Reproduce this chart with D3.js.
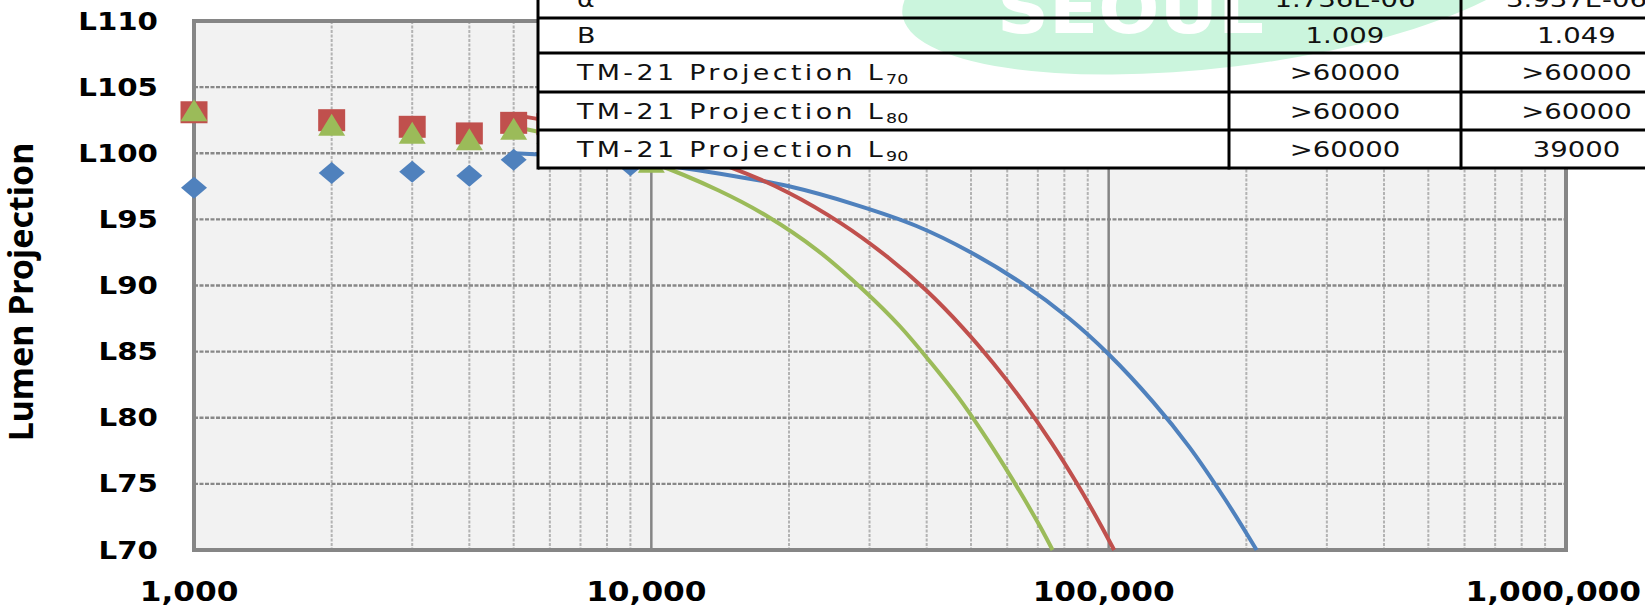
<!DOCTYPE html>
<html>
<head>
<meta charset="utf-8">
<script src="https://cdn.jsdelivr.net/npm/d3@7/dist/d3.min.js"></script>
<style>
  html, body { margin: 0; padding: 0; background: #fff; }
  svg { display: block; }
</style>
</head>
<body>
<svg id="chart"></svg>
<script>
const W = 1645, H = 608;

// LM-80 measured points (hours, lumen %)
const hours = [1000, 2000, 3000, 4000, 5000, 6000, 7000, 8000, 9000, 10000];
const blueMeasured = [97.4, 98.5, 98.6, 98.3, 99.5, 99.7, 99.6, 99.6, 99.1, 99.6];
const redMeasured = [103.1, 102.5, 102.0, 101.5, 102.3, 102.2, 102.0, 101.8, 101.5, 101.3];
const greenMeasured = [103.1, 102.0, 101.4, 100.9, 101.7, 101.4, 101.0, 100.5, 100.1, 99.2];

// TM-21 projection curves
const blueFitHours = [5000, 7000, 10000, 15000, 20000, 28000, 38000, 50000, 65000, 82000, 100000, 125000, 150000, 180000, 210600];
const blueFit = [100.0, 99.7, 99.2, 98.3, 97.5, 96.1, 94.5, 92.5, 90.1, 87.5, 84.8, 81.2, 77.8, 73.8, 70.0];
const redFitHours = [5000, 7000, 10000, 15000, 20000, 26000, 33000, 40000, 48000, 56000, 65000, 75000, 85000, 95000, 102800];
const redFit = [102.9, 102.0, 100.9, 98.9, 97.0, 94.7, 92.1, 89.6, 86.8, 84.1, 81.2, 78.1, 75.1, 72.2, 70.0];
const greenFitHours = [5000, 7000, 10000, 14000, 18000, 23000, 29000, 35000, 41000, 47000, 53000, 59000, 65000, 71000, 75400];
const greenFit = [102.0, 100.9, 99.3, 97.2, 95.2, 92.7, 89.7, 86.9, 84.1, 81.5, 78.9, 76.4, 74.0, 71.7, 70.0];

const yTicks = [70, 75, 80, 85, 90, 95, 100, 105, 110];
const yTickLabels = ["L70", "L75", "L80", "L85", "L90", "L95", "L100", "L105", "L110"];
const xTicks = [1000, 10000, 100000, 1000000];
const xTickLabels = ["1,000", "10,000", "100,000", "1,000,000"];

// table
const rowLabels = ["α", "B", "TM-21 Projection L", "TM-21 Projection L", "TM-21 Projection L"];
const rowSubs = ["", "", "70", "80", "90"];
const col2Values = ["1.736E-06", "1.009", ">60000", ">60000", ">60000"];
const col3Values = ["3.937E-06", "1.049", ">60000", ">60000", "39000"];

const colors = { blue: "#4f81bd", red: "#c0504d", green: "#9bbb59" };

const svg = d3.select("#chart").attr("width", W).attr("height", H);

const plot = { left: 194, right: 1566, top: 21, bottom: 550 };
const x = d3.scaleLog().domain([1000, 1000000]).range([plot.left, plot.right]);
const y = d3.scaleLinear().domain([70, 110]).range([plot.bottom, plot.top]);

// stretched text helper (the source picture is widened horizontally)
function sText(g, px, py, str, o) {
  return g.append("text")
    .attr("transform", `translate(${px},${py}) scale(${o.sx || 1},1)` + (o.rot ? ` rotate(${o.rot})` : ""))
    .attr("text-anchor", o.anchor || "start")
    .attr("font-family", o.family || "DejaVu Sans")
    .attr("font-weight", o.weight || "normal")
    .attr("font-size", o.size)
    .attr("letter-spacing", o.ls || 0)
    .attr("fill", o.fill || "#000")
    .text(str);
}

// plot background
svg.append("rect")
  .attr("x", plot.left).attr("y", plot.top)
  .attr("width", plot.right - plot.left).attr("height", plot.bottom - plot.top)
  .attr("fill", "#f2f2f2");

// vertical minor grid
const minor = [];
[1000, 10000, 100000].forEach(d => { for (let k = 2; k <= 9; k++) minor.push(d * k); });
svg.append("g").selectAll("line").data(minor).join("line")
  .attr("x1", d => x(d)).attr("x2", d => x(d))
  .attr("y1", plot.top).attr("y2", plot.bottom)
  .attr("stroke", "#b3b3b3").attr("stroke-width", 2).attr("stroke-dasharray", "3 1.5");

// horizontal grid
svg.append("g").selectAll("line").data(yTicks.slice(1, -1)).join("line")
  .attr("x1", plot.left).attr("x2", plot.right)
  .attr("y1", d => y(d)).attr("y2", d => y(d))
  .attr("stroke", "#888").attr("stroke-width", 2.4).attr("stroke-dasharray", "4 1.5");

// vertical major grid
svg.append("g").selectAll("line").data(xTicks.slice(1, -1)).join("line")
  .attr("x1", d => x(d)).attr("x2", d => x(d))
  .attr("y1", plot.top).attr("y2", plot.bottom)
  .attr("stroke", "#858585").attr("stroke-width", 2.5);

// plot border
svg.append("rect")
  .attr("x", plot.left).attr("y", plot.top)
  .attr("width", plot.right - plot.left).attr("height", plot.bottom - plot.top)
  .attr("fill", "none").attr("stroke", "#868686").attr("stroke-width", 4);

// projection curves
const line = d3.line().x(d => x(d[0])).y(d => y(d[1])).curve(d3.curveCatmullRom.alpha(0.5));
[[blueFitHours, blueFit, colors.blue], [redFitHours, redFit, colors.red], [greenFitHours, greenFit, colors.green]]
  .forEach(([hs, vs, c]) => {
    svg.append("path")
      .datum(d3.zip(hs, vs))
      .attr("d", line)
      .attr("fill", "none").attr("stroke", c).attr("stroke-width", 4);
  });

// markers
const diamond = "M0,-11L13,0L0,11L-13,0Z";
const square = "M-13.5,-11H13.5V11H-13.5Z";
const triangle = "M0,-13L13.5,9L-13.5,9Z";
function markers(vals, shape, c) {
  svg.append("g").selectAll("path").data(d3.zip(hours, vals)).join("path")
    .attr("d", shape)
    .attr("transform", d => `translate(${x(d[0])},${y(d[1])})`)
    .attr("fill", c);
}
markers(blueMeasured, diamond, colors.blue);
markers(redMeasured, square, colors.red);
markers(greenMeasured, triangle, colors.green);

// y tick labels
const yl = svg.append("g");
yTicks.forEach((v, i) => {
  sText(yl, 158, y(v) + 8.5, yTickLabels[i], { size: 24, weight: "bold", anchor: "end", sx: 1.22 });
});

// x tick labels (last one kept inside the frame)
const xl = svg.append("g");
xTicks.forEach((v, i) => {
  const sx = 1.2;
  const t = sText(xl, x(v) - 5, 601, xTickLabels[i], { size: 26, weight: "bold", anchor: "middle", sx });
  const half = t.node().getComputedTextLength() * sx / 2;
  const cx = Math.min(x(v) - 5, W - 4 - half);
  t.attr("transform", `translate(${cx},601) scale(${sx},1)`);
});

// y axis title
sText(svg, 33, 292, "Lumen Projection", { size: 34, family: "Noto Sans", weight: "bold", anchor: "middle", sx: 1.0, rot: -90 });

// table
const rowLines = [-20, 18, 53, 92, 130, 168];
const colLines = [538, 1229, 1461, 1700];
const tbl = svg.append("g");
tbl.append("rect")
  .attr("x", colLines[0]).attr("y", rowLines[0])
  .attr("width", W - colLines[0] + 10).attr("height", rowLines[5] - rowLines[0])
  .attr("fill", "#fff");

// watermark logo behind the grid lines of the table
const wm = tbl.append("g");
wm.append("ellipse")
  .attr("cx", 1225).attr("cy", -25).attr("rx", 325).attr("ry", 92)
  .attr("transform", "rotate(-7,1225,-25)")
  .attr("fill", "#cbf5dd");
wm.append("text")
  .attr("x", 997).attr("y", 33)
  .attr("textLength", 267).attr("lengthAdjust", "spacingAndGlyphs")
  .attr("font-family", "DejaVu Sans").attr("font-weight", "bold").attr("font-size", 70)
  .attr("fill", "#fff").text("SEOUL");

tbl.selectAll("line.h").data(rowLines.slice(1)).join("line")
  .attr("x1", colLines[0]).attr("x2", W + 5)
  .attr("y1", d => d).attr("y2", d => d)
  .attr("stroke", "#000").attr("stroke-width", 3);
tbl.selectAll("line.v").data(colLines.slice(0, 3)).join("line")
  .attr("x1", d => d).attr("x2", d => d)
  .attr("y1", rowLines[0]).attr("y2", rowLines[5] + 1.5)
  .attr("stroke", "#000").attr("stroke-width", 3);

const tt = tbl.append("g");
rowLabels.forEach((lab, i) => {
  const cy = (rowLines[i] + rowLines[i + 1]) / 2 + 7.5;
  const t = sText(tt, 577, cy, lab, { size: 21.5, anchor: "start", sx: 1.25, ls: 2.7, fill: "#111" });
  if (rowSubs[i]) {
    t.append("tspan").attr("dy", 4).attr("font-size", 14).attr("letter-spacing", 0).text(rowSubs[i]);
  }
  sText(tt, (colLines[1] + colLines[2]) / 2, cy, col2Values[i], { size: 21.5, anchor: "middle", sx: 1.28, fill: "#111" });
  sText(tt, (colLines[2] + colLines[3]) / 2 - 4, cy, col3Values[i], { size: 21.5, anchor: "middle", sx: 1.28, fill: "#111" });
});
</script>
</body>
</html>
